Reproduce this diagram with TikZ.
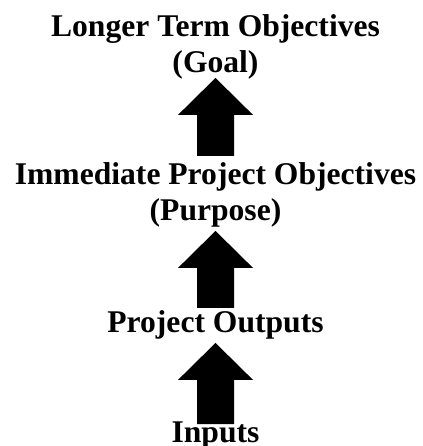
\documentclass[tikz,border=0pt]{standalone}
\usepackage{fontspec}
\setmainfont{Liberation Serif}[BoldFont=Liberation Serif Bold]
\usetikzlibrary{calc}

\begin{document}
\begin{tikzpicture}[x=1pt, y=1pt, level/.style={align=center, inner sep=0pt, font=\fontsize{31.6}{36}\selectfont\bfseries}, lift/.style={to path={let \p1=(\tikztostart), \p2=(\tikztotarget) in (\x1-18.5pt,\y1) -- (\x1+18.5pt,\y1) -- (\x1+18.5pt,\y2-37pt) -- (\x1+37.5pt,\y2-37pt) -- (\x1,\y2) -- (\x1-37.5pt,\y2-37pt) -- (\x1-18.5pt,\y2-37pt) -- cycle}}]
		\useasboundingbox (0,0) rectangle (422,446);
		\node[level, anchor=base](goal) at (215.5, 373) {Longer Term Objectives\\(Goal)};
		\node[level, anchor=base](purpose) at (215.5, 225) {Immediate Project Objectives\\(Purpose)};
		\node[level, anchor=base](outputs) at (215.5, 113) {Project Outputs};
		\node[level, anchor=base](inputs) at (215.5, 3) {Inputs};
		
		\fill ([yshift=7pt]purpose.north) to[lift] ([yshift=2pt]goal.south);
		\fill ([yshift=3pt]outputs.north) to[lift] ([yshift=-3pt]purpose.south);
		\fill ([yshift=-2pt]inputs.north) to[lift] ([yshift=-3pt]outputs.south);
		\end{tikzpicture}
\end{document}
